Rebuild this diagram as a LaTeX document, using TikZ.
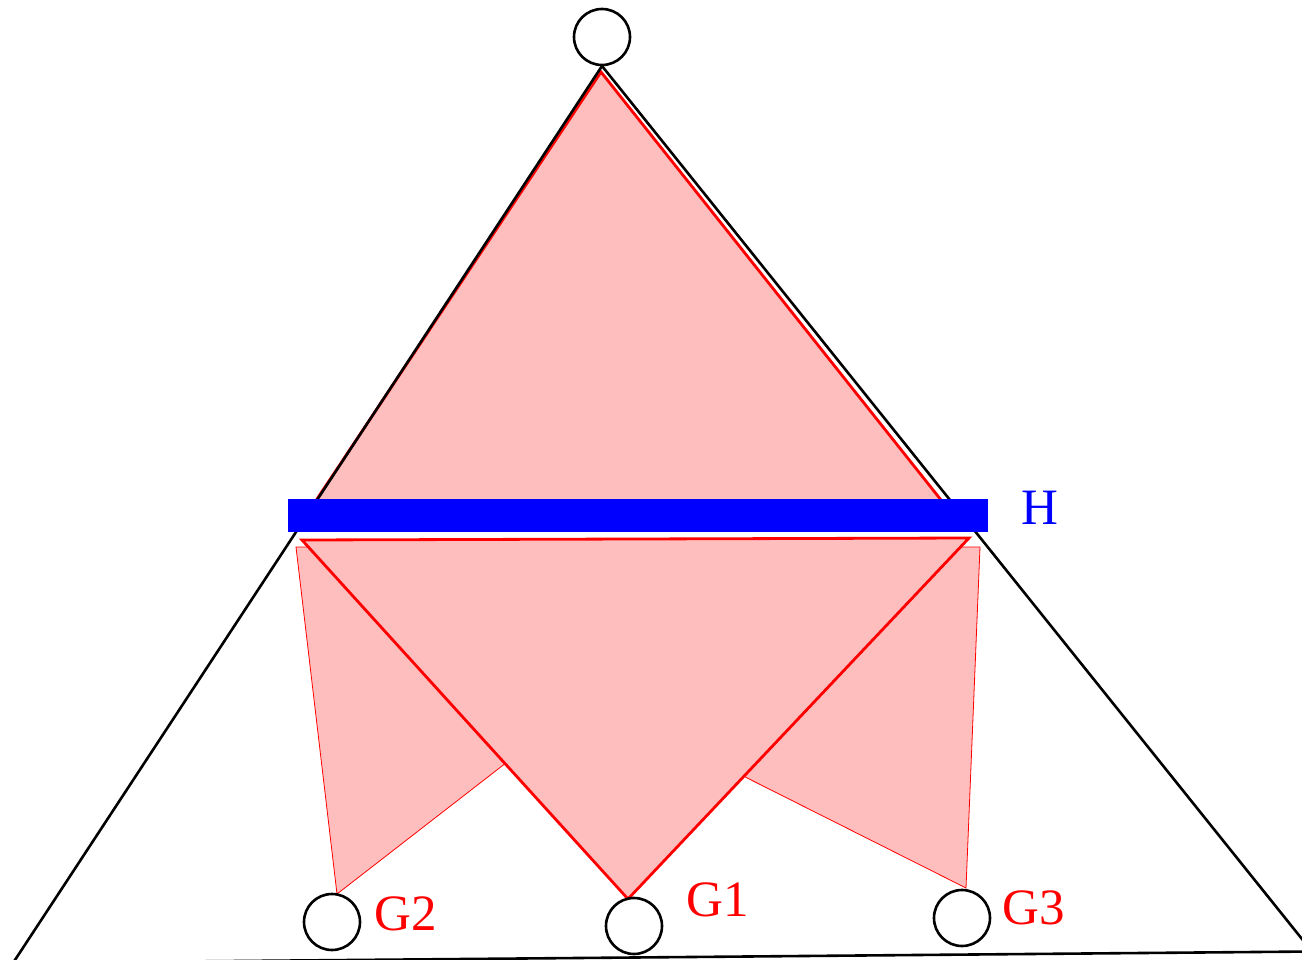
\documentclass[tikz,border=0pt]{standalone}
\usepackage{fontspec}
\setmainfont{Liberation Serif}
\definecolor{pinkfill}{RGB}{255,190,190}
\begin{document}
\begin{tikzpicture}[x=1pt,y=-1pt,
  vertex/.style={circle,draw=black,line width=2.6pt,fill=white,minimum size=56pt,inner sep=0pt},
  lab/.style={font=\fontsize{51}{51}\selectfont,inner sep=0pt},
  thinpink/.style={fill=pinkfill,draw=red,line width=0.8pt,line join=miter},
  redtri/.style={fill=pinkfill,draw=red,line width=2.8pt,line join=miter},
  edgeline/.style={draw=black,line width=2.6pt}]
\useasboundingbox (0,0) rectangle (1302,960);
\clip (0,0) rectangle (1302,960);
% corner coordinates
\coordinate (apex) at (602,66);
\coordinate (bl) at (13,963);
\coordinate (br) at (1312,951.5);
% thin pink shapes towards G2 and G3
\coordinate (g2top) at (337,894);
\coordinate (g3top) at (966,888);
\path[thinpink] (296,547) -- (g2top) -- (600,690) -- (500,547) -- cycle;
\path[thinpink] (980,547) -- (g3top) -- (592,700) -- (700,547) -- cycle;
% lower inverted triangle
\coordinate (g1top) at (628,899);
\path[redtri] (302,540) -- (969,538) -- (g1top) -- cycle;
% upper triangle
\path[redtri] (601,72) -- (945,505) -- (313,505) -- cycle;
% big black triangle
\draw[edgeline] (apex) -- (bl) -- (br) -- cycle;
% blue bar
\fill[blue] (288,499) rectangle (988,532);
\node[lab,text=blue] (H) at (1040,508) {H};
% vertices
\node[vertex] (top) at (602,37) {};
\node[vertex] (g2) at (332,922) {};
\node[vertex] (g1) at (634,926) {};
\node[vertex] (g3) at (962,918) {};
\node[lab,text=red] (l2) at (406,914) {G2};
\node[lab,text=red] (l1) at (718,900) {G1};
\node[lab,text=red] (l3) at (1034,908) {G3};
\end{tikzpicture}
\end{document}
